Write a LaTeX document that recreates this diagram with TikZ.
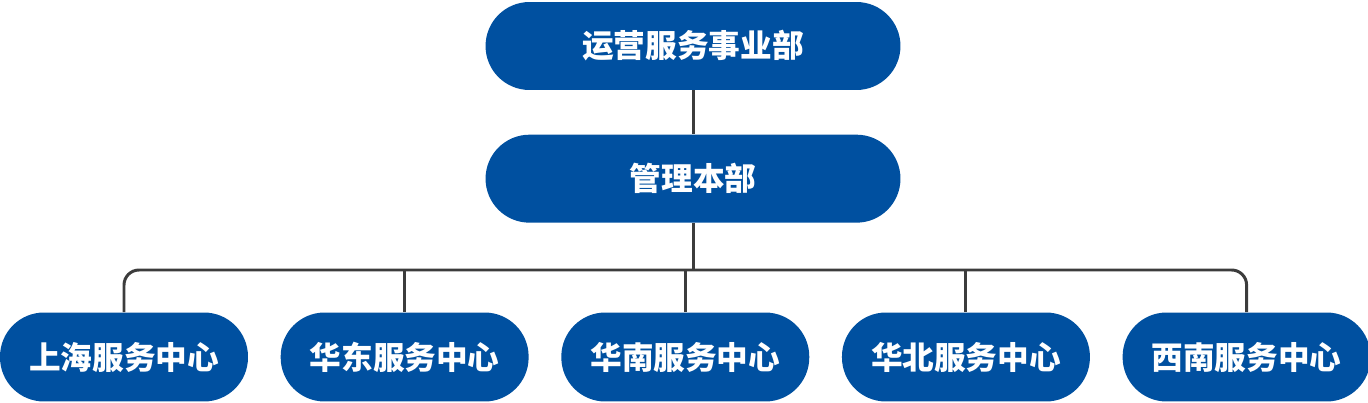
\documentclass[tikz,border=0pt]{standalone}
\usepackage{fontspec}
\newfontfamily\cjk{Noto Sans CJK SC}
\usetikzlibrary{positioning}

\definecolor{unitblue}{HTML}{0050A0}
\definecolor{linkgray}{HTML}{3C3C3C}

\begin{document}
\begin{tikzpicture}[x=0.02cm,y=-0.02cm]
    \tikzstyle{unit}=[fill=unitblue,text=white,rounded corners=0.88cm,
      minimum width=8.3cm,minimum height=1.76cm,
      font=\cjk\bfseries\fontsize{18}{20}\selectfont]
    \tikzstyle{centre}=[unit,minimum width=4.96cm,minimum height=1.78cm]
    \tikzstyle{link}=[draw=linkgray,line width=1.7pt]

    \useasboundingbox (0,0) rectangle (1368,402);

    \node[unit] (ops) at (693,46) {运营服务事业部};
    \node[unit,below=0.88cm of ops] (mgmt) {管理本部};

    \node[centre] (sh) at (124,357) {上海服务中心};
    \node[centre,right=0.64cm of sh] (east) {华东服务中心};
    \node[centre,right=0.64cm of east] (south) {华南服务中心};
    \node[centre,right=0.64cm of south] (north) {华北服务中心};
    \node[centre,right=0.64cm of north] (xn) {西南服务中心};

    \coordinate (bus) at (0,270);

    \draw[link] (ops) -- (mgmt);
    \draw[link,rounded corners=0.3cm] (sh.north) |- (bus -| xn.north) -- (xn.north);
    \foreach \n in {mgmt,east,south,north}
      \draw[link] (\n) -- (\n |- bus);
  \end{tikzpicture}
\end{document}
